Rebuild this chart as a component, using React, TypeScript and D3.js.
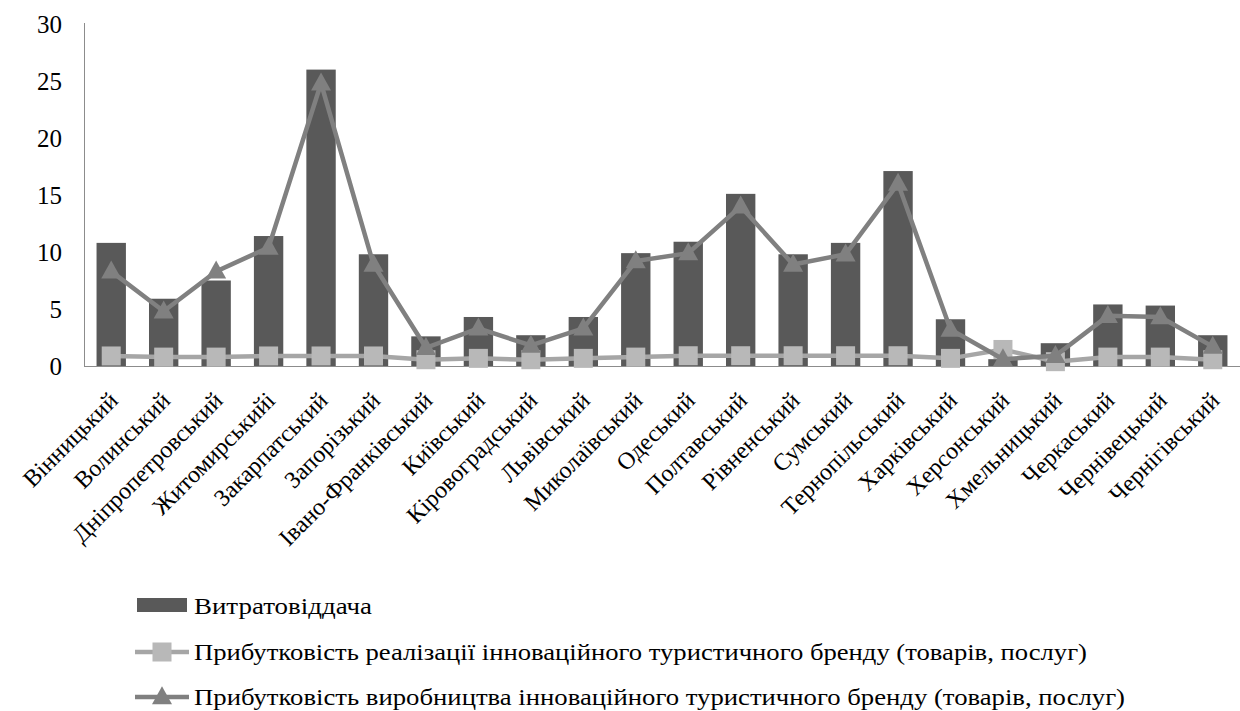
import React from "react";
import * as d3 from "d3";

const categories = [
  "Вінницький", "Волинський", "Дніпропетровський", "Житомирськийі", "Закарпатський",
  "Запорізький", "Івано-Франківський", "Київський", "Кіровоградський", "Львівський",
  "Миколаївський", "Одеський", "Полтавський", "Рівненський", "Сумський",
  "Тернопільський", "Харківський", "Херсонський", "Хмельницький", "Черкаський",
  "Чернівецький", "Чернігівський",
];

const costReturn = [10.8, 5.9, 7.5, 11.4, 26.0, 9.8, 2.6, 4.3, 2.7, 4.3, 9.9, 10.9, 15.1, 9.8, 10.8, 17.1, 4.1, 0.6, 2.0, 5.4, 5.3, 2.7];
const salesProfit = [0.88, 0.78, 0.78, 0.88, 0.88, 0.88, 0.55, 0.67, 0.55, 0.67, 0.78, 0.9, 0.9, 0.9, 0.9, 0.9, 0.67, 1.45, 0.38, 0.78, 0.78, 0.55];
const productionProfit = [8.3, 4.8, 8.3, 10.4, 24.8, 8.9, 1.6, 3.3, 1.8, 3.3, 9.2, 9.9, 14.0, 8.9, 9.8, 16.0, 3.2, 0.6, 0.9, 4.4, 4.3, 1.7];

const yTicks = [0, 5, 10, 15, 20, 25, 30];

const legendLabels = [
  "Витратовіддача",
  "Прибутковість реалізації інноваційного туристичного бренду (товарів, послуг)",
  "Прибутковість виробництва інноваційного туристичного бренду (товарів, послуг)",
];

const W = 1240;
const H = 711;
const FONT = "Liberation Serif, DejaVu Serif, serif";
const BAR = "#595959";
const SQ_LINE = "#a6a6a6";
const SQ_FILL = "#b8b8b8";
const TRI = "#808080";

export default function App() {
  const x = d3
    .scaleBand<string>()
    .domain(categories)
    .range([85, 1239])
    .paddingInner(0.44)
    .paddingOuter(0.22);
  const y = d3.scaleLinear().domain([0, 30]).range([366, 24]);
  const cx = (i: number) => (x(categories[i]) as number) + x.bandwidth() / 2;

  const line = d3
    .line<number>()
    .x((_, i) => cx(i))
    .y((d) => y(d));

  const sq = 19;
  const triPath = (px: number, py: number, w = 20, h = 18) =>
    `M${px},${py - h * 0.6}L${px + w / 2},${py + h * 0.4}L${px - w / 2},${py + h * 0.4}Z`;

  const ts = { fontFamily: FONT };

  return (
    <svg
      width={W}
      height={H}
      style={{ position: "absolute", left: 0, top: 0, background: "#fff" }}
    >
      <rect x={0} y={0} width={W} height={H} fill="#fff" />
      {/* axes */}
      <line x1={84.5} x2={84.5} y1={23} y2={366} stroke="#8c8c8c" strokeWidth={1} />
      {yTicks.map((t) => (
        <text key={t} x={62} y={y(t) + 8.5} textAnchor="end" fontSize={25} fill="#000" style={ts}>
          {t}
        </text>
      ))}
      {/* bars */}
      {costReturn.map((v, i) => (
        <rect
          key={i}
          x={x(categories[i])}
          y={y(v)}
          width={x.bandwidth()}
          height={y(0) - y(v)}
          fill={BAR}
        />
      ))}
      <line x1={84} x2={1240} y1={366.5} y2={366.5} stroke="#8c8c8c" strokeWidth={1.2} />
      {/* sales profit line */}
      <path d={line(salesProfit) || ""} fill="none" stroke={SQ_LINE} strokeWidth={4.5} />
      {salesProfit.map((v, i) => (
        <rect key={i} x={cx(i) - sq / 2} y={y(v) - sq / 2} width={sq} height={sq} fill={SQ_FILL} />
      ))}
      {/* production profit line */}
      <path d={line(productionProfit) || ""} fill="none" stroke={TRI} strokeWidth={4.5} />
      {productionProfit.map((v, i) => (
        <path key={i} d={triPath(cx(i), y(v))} fill={TRI} />
      ))}
      {/* x labels */}
      {categories.map((c, i) => (
        <text
          key={c}
          transform={`translate(${cx(i) + 8},${402}) rotate(-45)`}
          textAnchor="end"
          fontSize={24}
          fill="#000"
          style={ts}
        >
          {c}
        </text>
      ))}
      {/* legend */}
      <g>
        <rect x={137} y={598} width={50} height={14} fill={BAR} />
        <text x={194} y={614} fontSize={23} fill="#000" style={ts} textLength={178} lengthAdjust="spacingAndGlyphs">{legendLabels[0]}</text>
        <line x1={135} x2={189} y1={652} y2={652} stroke={SQ_LINE} strokeWidth={4.5} />
        <rect x={162 - 9.5} y={652 - 9.5} width={19} height={19} fill={SQ_FILL} />
        <text x={194} y={660} fontSize={23} fill="#000" style={ts} textLength={893} lengthAdjust="spacingAndGlyphs">{legendLabels[1]}</text>
        <line x1={135} x2={189} y1={697} y2={697} stroke={TRI} strokeWidth={4.5} />
        <path d={triPath(162, 697)} fill={TRI} />
        <text x={194} y={705} fontSize={23} fill="#000" style={ts} textLength={931} lengthAdjust="spacingAndGlyphs">{legendLabels[2]}</text>
      </g>
    </svg>
  );
}
